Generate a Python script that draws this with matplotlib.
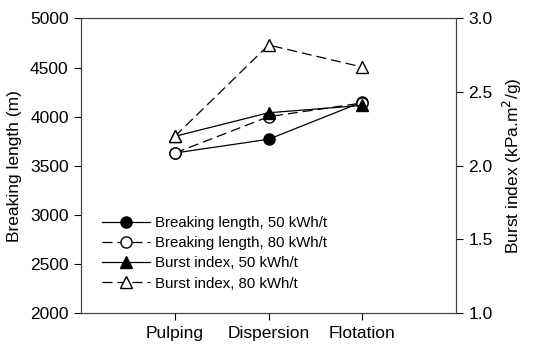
import matplotlib.pyplot as plt

plt.rcParams['font.family'] = ['Liberation Sans', 'DejaVu Sans']
plt.rcParams['font.size'] = 12.5

# Stages of the deinking process
stages = ['Pulping', 'Dispersion', 'Flotation']
x = [1, 2, 3]

# Breaking length (m)
bl_50 = [3630, 3770, 4150]
bl_80 = [3630, 4000, 4140]

# Burst index (kPa.m2/g)
bi_50 = [2.20, 2.36, 2.41]
bi_80 = [2.20, 2.82, 2.67]

fig, ax = plt.subplots(figsize=(5.41, 3.49), dpi=100)
ax2 = ax.twinx()

dash = (0, (8, 4))
l1, = ax.plot(x, bl_50, color='black', lw=0.9, marker='o', ms=8,
              mfc='black', mec='black', label='Breaking length, 50 kWh/t')
l2, = ax.plot(x, bl_80, color='black', lw=0.9, ls=dash, marker='o', ms=8,
              mfc='white', mec='black', label='Breaking length, 80 kWh/t')
l3, = ax2.plot(x, bi_50, color='black', lw=0.9, marker='^', ms=8,
               mfc='black', mec='black', label='Burst index, 50 kWh/t')
l4, = ax2.plot(x, bi_80, color='black', lw=0.9, ls=dash, marker='^', ms=8,
               mfc='white', mec='black', label='Burst index, 80 kWh/t')

ax.set_xlim(0, 4)
ax.set_xticks(x)
ax.set_xticklabels(stages)
ax.set_ylim(2000, 5000)
ax.set_yticks(range(2000, 5001, 500))
ax2.set_ylim(1.0, 3.0)
ax2.set_yticks([1.0, 1.5, 2.0, 2.5, 3.0])
ax2.set_yticklabels(['1.0', '1.5', '2.0', '2.5', '3.0'])

ax.set_ylabel('Breaking length (m)', labelpad=6)
ax2.set_ylabel('Burst index (kPa.m$^2$/g)', labelpad=6)

for a in (ax, ax2):
    a.tick_params(direction='out', length=5, width=0.8, pad=4)
    for s in a.spines.values():
        s.set_linewidth(0.8)
        s.set_color('#444444')

ax.legend(handles=[l1, l2, l3, l4], loc='lower left',
          bbox_to_anchor=(0.02, 0.03), frameon=False, handlelength=3.2,
          handletextpad=0.35, labelspacing=0.42, fontsize=10.8)

plt.subplots_adjust(left=0.15, right=0.843, top=0.947, bottom=0.103)
plt.savefig('out.png', dpi=100)
